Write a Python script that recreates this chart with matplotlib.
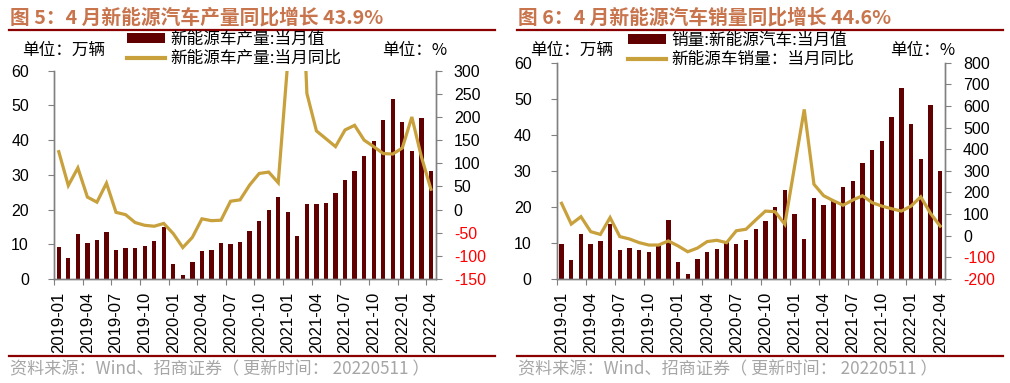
import matplotlib
matplotlib.use("Agg")
import matplotlib.pyplot as plt
from matplotlib.lines import Line2D
from matplotlib.patches import Patch

plt.rcParams['font.family'] = ['Liberation Sans', 'Noto Sans CJK SC', 'DejaVu Sans']
CJK = ['Noto Sans CJK SC', 'DejaVu Sans']

# ---------------- data ----------------
tick_labels = ['2019-01', '2019-04', '2019-07', '2019-10', '2020-01', '2020-04', '2020-07',
               '2020-10', '2021-01', '2021-04', '2021-07', '2021-10', '2022-01', '2022-04']

prod_val = [9.1, 6.0, 13.0, 10.3, 11.2, 13.4, 8.4, 8.8, 9.0, 9.5, 11.0, 15.1,
            4.4, 1.1, 5.0, 8.1, 8.4, 10.3, 10.1, 10.6, 13.7, 16.7, 19.9, 23.7,
            19.4, 12.5, 21.7, 21.7, 21.8, 24.9, 28.5, 31.0, 35.4, 39.8, 45.8, 51.9,
            45.3, 36.9, 46.5, 31.2]
prod_yoy = [125, 52, 90, 27, 16, 57, -6, -11, -28, -34, -36, -30,
            -52, -82, -60, -20, -24, -23, 18, 21, 53, 78, 81, 58,
            320, 750, 251, 170, 153, 136, 172, 182, 150, 136, 121, 120,
            133, 200, 114, 43.9]

sales_val = [9.6, 5.4, 12.6, 9.7, 10.5, 15.2, 8.0, 8.5, 8.0, 7.6, 9.5, 16.4,
             4.7, 1.4, 5.5, 7.4, 8.2, 10.4, 9.8, 10.9, 13.8, 16.0, 20.0, 24.8,
             18.0, 11.0, 22.6, 20.6, 21.7, 25.6, 27.1, 32.1, 35.7, 38.3, 45.0, 53.1,
             43.1, 33.4, 48.4, 29.9]
sales_yoy = [150, 54, 88, 19, 6, 84, -4, -15, -32, -43, -43, -24,
             -47, -74, -57, -27, -21, -32, 23, 30, 73, 114, 111, 53,
             319, 584, 238, 185, 162, 141, 165, 185, 153, 137, 125, 114,
             137, 180, 104, 44.6]

BAR = '#600000'
LINE = '#C8A03C'
TITLE = '#C8744C'
RULE = '#8B0000'
GREY = '#808080'

W, H = 1010, 383
fig = plt.figure(figsize=(W / 100, H / 100), dpi=100)


def fx(px):
    return px / W


def fy(py):
    return 1 - py / H


def panel(rect, vals, yoy, y2lim, y2step, title, bar_lab, line_lab, x0, leg_x, leg_y):
    ax = fig.add_axes(rect)
    n = len(vals)
    xs = list(range(n))
    ax.bar(xs, vals, width=0.45, color=BAR, zorder=2)
    ax.set_xlim(-0.5, n - 0.5)
    ax.set_ylim(0, 60)
    ax.set_yticks(range(0, 61, 10))
    ax2 = ax.twinx()
    ax2.plot(xs, yoy, color=LINE, lw=2.3, zorder=3, solid_joinstyle='miter')
    ax2.set_ylim(*y2lim)
    y2t = list(range(y2lim[0], y2lim[1] + 1, y2step))
    ax2.set_yticks(y2t)
    ax2.set_yticklabels([str(v) for v in y2t])
    for lab, v in zip(ax2.get_yticklabels(), y2t):
        lab.set_color('red' if v < 0 else 'black')

    # x ticks at category boundaries, labels centred on the month
    ax.set_xticks([i - 0.5 for i in range(0, n, 3)])
    ax.set_xticklabels([])
    ax.set_xticks(list(range(0, n, 3)), minor=True)
    ax.set_xticklabels(tick_labels, minor=True, rotation=90, fontsize=12)
    ax.tick_params(axis='x', which='major', length=4, color=GREY, direction='out')
    ax.tick_params(axis='x', which='minor', length=0, pad=9)
    ax.tick_params(axis='y', length=4, color=GREY, labelsize=11.5, pad=14)
    ax2.tick_params(axis='y', length=4, color=GREY, labelsize=11.5, pad=9)

    for a in (ax, ax2):
        a.spines['top'].set_visible(False)
        for s in ('left', 'right', 'bottom'):
            a.spines[s].set_color(GREY)
            a.spines[s].set_linewidth(1.0)
    ax.patch.set_visible(False)

    # title and rules
    fig.text(fx(x0 + 1), fy(17), title, family=CJK, fontsize=14.2, fontweight='bold',
             color=TITLE, va='center', ha='left')
    fig.add_artist(Line2D([fx(x0), fx(x0 + 486)], [fy(29.5)] * 2, color=RULE, lw=1.6))
    fig.add_artist(Line2D([fx(x0), fx(x0 + 486)], [fy(356)] * 2, color=RULE, lw=1.6))
    fig.text(fx(x0 + 1), fy(369), '资料来源：Wind、招商证券（ 更新时间： 20220511 ）',
             family=CJK, fontsize=12.3, color='#A6A6A6', va='center', ha='left')

    # unit labels
    fig.text(fx(x0 + 13), fy(50), '单位：万辆', family=CJK, fontsize=12, va='center', ha='left')
    fig.text(fx(x0 + 373), fy(50), '单位：%', family=CJK, fontsize=12, va='center', ha='left')

    handles = [Patch(facecolor=BAR, edgecolor='none'),
               Line2D([], [], color=LINE, lw=3)]
    fig.legend(handles, [bar_lab, line_lab], loc='upper left',
               bbox_to_anchor=(fx(leg_x), fy(leg_y)), frameon=False,
               prop={'family': CJK, 'size': 12}, borderpad=0, borderaxespad=0,
               handlelength=2.3, handleheight=0.5, handletextpad=0.3, labelspacing=0.12)
    return ax, ax2


panel([fx(54), fy(279), fx(435.7) - fx(54), fy(70.7) - fy(279)],
      prod_val, prod_yoy, (-150, 300), 50,
      '图 5：4 月新能源汽车产量同比增长 43.9%',
      '新能源车产量:当月值', '新能源车产量:当月同比', 9, 127, 31)

panel([fx(556.7), fy(279), fx(945) - fx(556.7), fy(62.7) - fy(279)],
      sales_val, sales_yoy, (-200, 800), 100,
      '图 6：4 月新能源汽车销量同比增长 44.6%',
      '销量:新能源汽车:当月值', '新能源车销量：当月同比', 517, 628, 32)

fig.savefig('out.png', dpi=100)
